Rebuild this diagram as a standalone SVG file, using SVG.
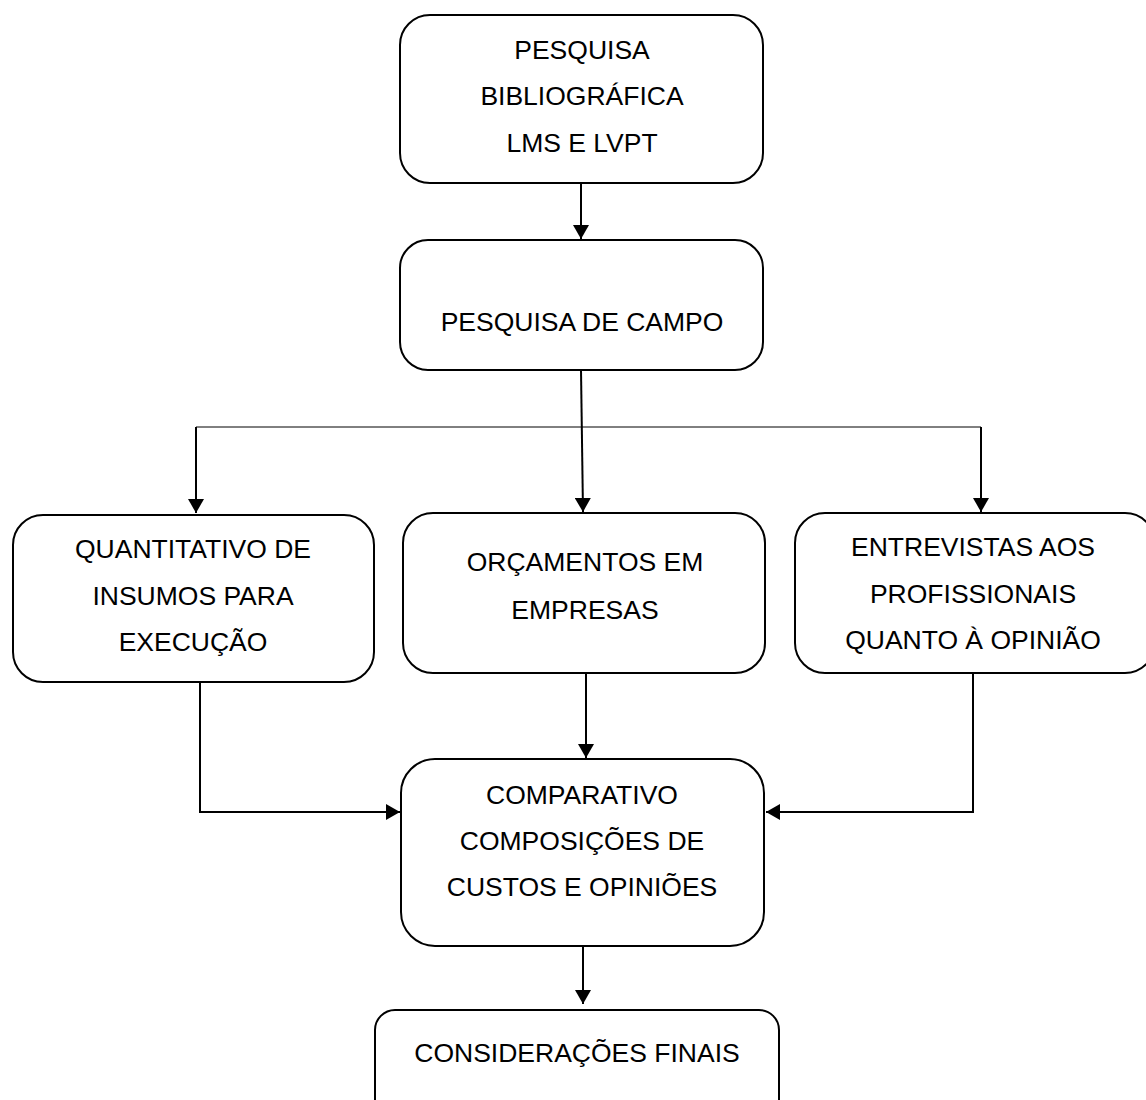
<svg xmlns="http://www.w3.org/2000/svg" width="1146" height="1100" viewBox="0 0 1146 1100">
<style>
.box{fill:#fff;stroke:#000;stroke-width:2}
.t{font-family:"Liberation Sans",Arial,sans-serif;font-size:26.5px;fill:#000;text-anchor:middle}
.c{fill:none;stroke:#000;stroke-width:2}
.thin{fill:none;stroke:#000;stroke-width:1}
</style>
<defs>
<marker id="ah" markerUnits="userSpaceOnUse" markerWidth="16" markerHeight="16" viewBox="0 0 14 16" refX="14" refY="8" orient="auto">
<path d="M0,0 L14,8 L0,16 z" fill="#000"/>
</marker>
</defs>
<rect width="1146" height="1100" fill="#fff"/>
<g id="connectors">
<line class="c" x1="581" y1="183" x2="581" y2="239" marker-end="url(#ah)"/>
<line class="c" x1="581" y1="370" x2="583" y2="512" marker-end="url(#ah)"/>
<polyline class="thin" points="196,427 981,427"/>
<line class="c" x1="196" y1="427" x2="196" y2="513" marker-end="url(#ah)"/>
<line class="c" x1="981" y1="427" x2="981" y2="512" marker-end="url(#ah)"/>
<polyline class="c" points="200,681 200,812 400,812" marker-end="url(#ah)"/>
<line class="c" x1="197" y1="681" x2="204" y2="681"/>
<line class="c" x1="586" y1="673" x2="586" y2="758" marker-end="url(#ah)"/>
<polyline class="c" points="973,673 973,812 766,812" marker-end="url(#ah)"/>
<line class="c" x1="583" y1="946" x2="583" y2="1004" marker-end="url(#ah)"/>
</g>
<g id="n1"><rect class="box" x="400" y="15" width="363" height="168" rx="30"/>
<text class="t" x="582" y="59">PESQUISA</text><text class="t" x="582" y="105">BIBLIOGRÁFICA</text><text class="t" x="582" y="152">LMS E LVPT</text></g>
<g id="n2"><rect class="box" x="400" y="240" width="363" height="130" rx="28"/>
<text class="t" x="582" y="331">PESQUISA DE CAMPO</text></g>
<g id="n3"><rect class="box" x="13" y="515" width="361" height="167" rx="30"/>
<text class="t" x="193" y="558">QUANTITATIVO DE</text><text class="t" x="193" y="605">INSUMOS PARA</text><text class="t" x="193" y="651">EXECUÇÃO</text></g>
<g id="n4"><rect class="box" x="403" y="513" width="362" height="160" rx="30"/>
<text class="t" x="585" y="571">ORÇAMENTOS EM</text><text class="t" x="585" y="619">EMPRESAS</text></g>
<g id="n5"><rect class="box" x="795" y="513" width="360" height="160" rx="30"/>
<text class="t" x="973" y="556">ENTREVISTAS AOS</text><text class="t" x="973" y="603">PROFISSIONAIS</text><text class="t" x="973" y="649">QUANTO À OPINIÃO</text></g>
<g id="n6"><rect class="box" x="401" y="759" width="363" height="187" rx="34"/>
<text class="t" x="582" y="804">COMPARATIVO</text><text class="t" x="582" y="850">COMPOSIÇÕES DE</text><text class="t" x="582" y="896">CUSTOS E OPINIÕES</text></g>
<g id="n7"><rect class="box" x="375" y="1010" width="404" height="120" rx="20"/>
<text class="t" x="577" y="1062">CONSIDERAÇÕES FINAIS</text></g>
</svg>
